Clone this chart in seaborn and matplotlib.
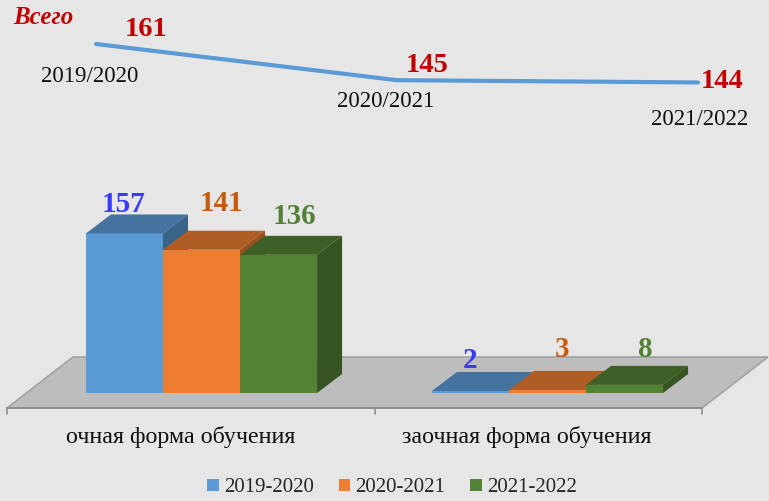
import matplotlib
matplotlib.use('Agg')
import numpy as np
import pandas as pd
import matplotlib.pyplot as plt
import matplotlib.colors as mcolors
from matplotlib.patches import Polygon, Patch
import seaborn as sns

# Totals (line at the top)
total_years = ['2019/2020', '2020/2021', '2021/2022']
total_students = [161, 145, 144]

# Students by form of study (3D bars)
forms = ['очная форма обучения', 'заочная форма обучения']
periods = ['2019-2020', '2020-2021', '2021-2022']
full_time = [157, 141, 136]
part_time = [2, 3, 8]

front_colors = ['#5b9bd5', '#ed7d31', '#548235']
label_colors = ['#3a3aff', '#c55a11', '#538135']
BG = '#e6e6e6'
RED = '#c00000'
SERIF = ['Liberation Serif', 'DejaVu Serif']

df = pd.DataFrame({
    'form': [f for f in forms for _ in periods],
    'period': periods * len(forms),
    'value': full_time + part_time,
})

sns.set_style('white')
plt.rcParams['font.family'] = SERIF

W, H = 769, 501
fig = plt.figure(figsize=(W / 100, H / 100), dpi=100, facecolor=BG)


def box(left, top, width, height):
    # pixel box -> figure fraction
    return [left / W, 1 - (top + height) / H, width / W, height / H]


# ---- total line ----
ax_line = fig.add_axes(box(96, 20, 602, 100))
ax_line.set_facecolor('none')
sns.lineplot(x=range(len(total_students)), y=total_students, color='#5b9bd5',
             linewidth=3, ax=ax_line, solid_capstyle='round', clip_on=False)
ax_line.set_xlim(0, 2)
ax_line.set_ylim(127.4, 171.6)
ax_line.axis('off')

value_nudges = [(50, 14), (30, 15), (24, 1)]
year_nudges = [(-6, -33), (-11, -21), (2, -37)]
for i, (val, yr) in enumerate(zip(total_students, total_years)):
    ax_line.annotate(str(val), (i, val), xytext=value_nudges[i], textcoords='offset pixels',
                     ha='center', va='center', fontsize=20.5, fontweight='bold', color=RED)
    ax_line.annotate(yr, (i, val), xytext=year_nudges[i], textcoords='offset pixels',
                     ha='center', va='center', fontsize=16.5, color='#111111')

fig.text(43 / W, 1 - 18 / H, 'Всего', ha='center', va='center', fontsize=18,
         fontstyle='italic', fontweight='bold', color=RED)

# ---- 3D-looking bars ----
ax = fig.add_axes(box(28.5, 193, 692, 200))
ax.set_facecolor('none')
sns.barplot(data=df, x='form', y='value', hue='period', palette=front_colors,
            saturation=1, width=0.668, linewidth=0, legend=False, ax=ax)
ax.set_xlim(-0.5, 1.5)
ax.set_ylim(0, 196.85)
ax.axis('off')
bars = sorted(ax.patches, key=lambda p: p.get_x())

inv = ax.transData.inverted()
o = inv.transform((0, 0))


def px(dx, dy):
    # pixel vector -> data vector
    p = inv.transform((dx, dy)) - o
    return p[0], p[1]


ddx, ddy = px(25, 19)

# floor
fx0, fy0 = px(7 - 201.5, -15)
fx1, _ = px(702 - 201.5, 0)
bx, by = px(66, 51)
floor = Polygon([(fx0, fy0), (fx1, fy0), (fx1 + bx, fy0 + by), (fx0 + bx, fy0 + by)],
                closed=True, facecolor='#bdbdbd', edgecolor='#a2a2a2', linewidth=1.2,
                clip_on=False, zorder=1)
ax.add_patch(floor)
ax.plot([fx0, fx1], [fy0, fy0], color='#8f8f8f', lw=1.4, clip_on=False, zorder=1)
_, tick_len = px(0, 6)
for tx in (fx0, 0.5, fx1):
    ax.plot([tx, tx], [fy0, fy0 - tick_len], color='#8f8f8f', lw=1.2, clip_on=False, zorder=1)


def shade(c, k):
    r, g, b = mcolors.to_rgb(c)
    return (r * k, g * k, b * k)


label_nudges = [(-13, 10), (8, 27), (3, 19), (-13, 11), (2, 21), (8, 16)]
hexes = [mcolors.to_hex(c) for c in front_colors]
for i, bar in enumerate(bars):
    x0, w, h = bar.get_x(), bar.get_width(), bar.get_height()
    face = bar.get_facecolor()
    k = hexes.index(mcolors.to_hex(face))
    z = 3 + i
    bar.set_zorder(z)
    top = Polygon([(x0, h), (x0 + w, h), (x0 + w + ddx, h + ddy), (x0 + ddx, h + ddy)],
                  facecolor=shade(face, 0.74), edgecolor='none', zorder=z)
    side = Polygon([(x0 + w, 0), (x0 + w + ddx, ddy), (x0 + w + ddx, h + ddy), (x0 + w, h)],
                   facecolor=shade(face, 0.64), edgecolor='none', zorder=z)
    ax.add_patch(top)
    ax.add_patch(side)
    ax.annotate(f'{h:.0f}', (x0 + w / 2 + ddx / 2, h + ddy), xytext=label_nudges[i],
                textcoords='offset pixels', ha='center', va='center', fontsize=21,
                fontweight='bold', color=label_colors[k], zorder=20)

for i, name in enumerate(forms):
    ax.annotate(name, (i, 0), xytext=(-21, -44), textcoords='offset pixels',
                ha='center', va='center', fontsize=17.3, color='#111111')

handles = [Patch(facecolor=c, edgecolor='none', label=p) for c, p in zip(front_colors, periods)]
fig.legend(handles=handles, loc='center', bbox_to_anchor=(392 / W, 1 - 488 / H), ncol=3,
           frameon=False, fontsize=15, handlelength=0.55, handleheight=0.55,
           handletextpad=0.25, columnspacing=1.2)

fig.savefig('out.png', dpi=100, facecolor=BG)
